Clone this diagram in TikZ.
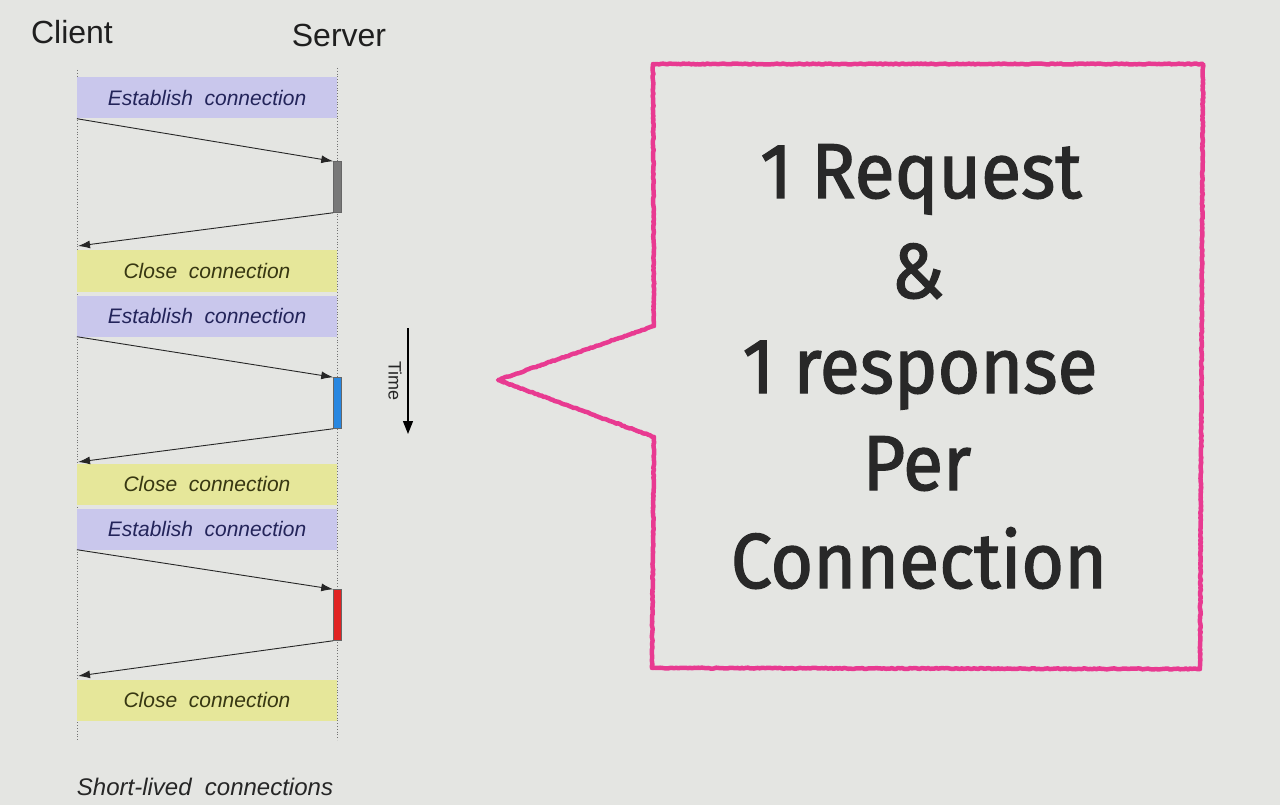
\documentclass[tikz,border=0pt]{standalone}
\usepackage{fontspec}
\setmainfont{Liberation Sans}
\newfontfamily\bigfont[FakeBold=1.6,FakeStretch=0.94]{Fira Sans}
\usetikzlibrary{arrows.meta,decorations.pathmorphing}
\definecolor{bg}{RGB}{228,229,226}
\definecolor{estfill}{RGB}{201,199,236}
\definecolor{closefill}{RGB}{230,231,154}
\definecolor{esttext}{RGB}{35,36,90}
\definecolor{closetext}{RGB}{55,55,18}
\definecolor{pinkline}{RGB}{232,58,145}
\definecolor{bargray}{RGB}{120,120,120}
\definecolor{barblue}{RGB}{40,135,225}
\definecolor{barred}{RGB}{225,35,35}
\definecolor{bigtext}{RGB}{40,40,40}
\tikzset{
  head/.style={font=\fontsize{32}{34}\selectfont, text=black!88},
  life/.style={draw=black!55, line width=0.8pt, dotted},
  estbox/.style={fill=estfill, minimum width=260pt, minimum height=41pt, inner sep=0pt,
     text=esttext, font=\itshape\fontsize{21}{23}\selectfont},
  closebox/.style={fill=closefill, minimum width=260pt, minimum height=41pt, inner sep=0pt,
     text=closetext, font=\itshape\fontsize{21}{23}\selectfont},
  actbar/.style={draw=black!60, line width=0.5pt, minimum width=8pt, minimum height=51pt, inner sep=0pt},
  msg/.style={draw=black!85, line width=0.9pt, -{Latex[length=12pt,width=8pt]}},
  big/.style={font=\bigfont\fontsize{78}{78}\selectfont, text=bigtext, anchor=base},
  crayon/.style={draw=pinkline, line width=4.5pt, line join=round,
     decorate, decoration={random steps, segment length=2pt, amplitude=0.5pt}},
}
\begin{document}
\begin{tikzpicture}[x=1pt,y=-1pt]
\fill[bg] (0,0) rectangle (1280,805);
\useasboundingbox (0,0) rectangle (1280,805);

% headers
\node[head] (client) at (72,32) {Client};
\node[head] (server) at (339,35) {Server};

% lifelines
\coordinate (ctop) at (77,70);
\coordinate (cbot) at (77,740);
\coordinate (stop) at (337,68);
\coordinate (sbot) at (337,740);
\draw[life] (ctop) -- (cbot);
\draw[life] (stop) -- (sbot);

% cycle 1
\node[estbox] (e1) at (207,98) {Establish\ \ connection};
\node[actbar, fill=bargray] (b1) at (337.5,187) {};
\coordinate (r1) at (78,246);
\node[closebox] (c1) at (207,271) {Close\ \ connection};
\draw[msg] (e1.south west) -- (b1.north west);
\draw[msg] (b1.south west) -- (r1);

% cycle 2
\node[estbox] (e2) at (207,316) {Establish\ \ connection};
\node[actbar, fill=barblue] (b2) at (337.5,403) {};
\coordinate (r2) at (78,462);
\node[closebox] (c2) at (207,484) {Close\ \ connection};
\draw[msg] (e2.south west) -- (b2.north west);
\draw[msg] (b2.south west) -- (r2);

% cycle 3
\node[estbox] (e3) at (207,529) {Establish\ \ connection};
\node[actbar, fill=barred] (b3) at (337.5,615) {};
\coordinate (r3) at (78,676);
\node[closebox] (c3) at (207,700) {Close\ \ connection};
\draw[msg] (e3.south west) -- (b3.north west);
\draw[msg] (b3.south west) -- (r3);

% caption
\node[font=\itshape\fontsize{24}{26}\selectfont, text=black!85] (cap) at (205,787) {Short-lived\ \ connections};

% time arrow
\coordinate (tt) at (408,328);
\coordinate (tb) at (408,434);
\draw[line width=1.3pt, -{Triangle[length=13pt,width=10pt]}] (tt) -- (tb);
\node[rotate=-90, font=\fontsize{18}{20}\selectfont, text=black!85] (time) at (395,381) {Time};

% callout
\draw[crayon] (653,64) -- (1203,64) -- (1200,669) -- (652,668) -- (654,437) -- (498,380) -- (654,326) -- cycle;

\node[big] (l1) at (921,198) {1 Request};
\node[big] (l2) at (918,298) {\&};
\node[big] (l3) at (920,393) {1 response};
\node[big] (l4) at (917,490) {Per};
\node[big] (l5) at (919,588) {Connection};
\end{tikzpicture}
\end{document}
